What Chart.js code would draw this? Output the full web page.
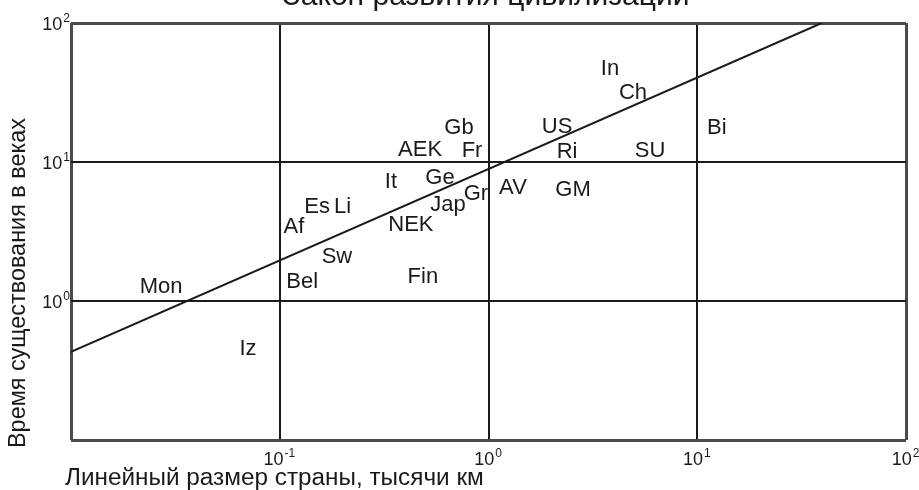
<!DOCTYPE html>
<html>
<head>
<meta charset="utf-8">
<script src="https://cdn.jsdelivr.net/npm/chart.js@4/dist/chart.umd.min.js"></script>
<style>
  body { margin: 0; background: #fff; }
  canvas { display: block; }
</style>
</head>
<body>
<canvas id="chart" width="919" height="490"></canvas>
<script>
// country codes, linear size (thousand km) and lifetime (centuries)
const names = ['In', 'Ch', 'Gb', 'AEK', 'Fr', 'US', 'Ri', 'SU', 'Bi', 'It', 'Ge', 'Gr', 'AV', 'GM',
  'Jap', 'Es', 'Li', 'Af', 'NEK', 'Sw', 'Bel', 'Fin', 'Mon', 'Iz'];
const sizes = [3.82, 4.92, 0.722, 0.47, 0.834, 2.13, 2.38, 5.94, 12.4, 0.341, 0.586, 0.871, 1.31, 2.54,
  0.64, 0.151, 0.2, 0.117, 0.425, 0.188, 0.128, 0.485, 0.027, 0.0705];
const ages = [48.2, 32.4, 18.2, 12.6, 12.4, 18.5, 12.2, 12.4, 18.2, 7.42, 7.93, 6.08, 6.72, 6.5,
  5.07, 4.91, 4.91, 3.52, 3.64, 2.14, 1.42, 1.54, 1.3, 0.467];

// trend line end points
const lineX = [0.01, 39.5];
const lineY = [0.43, 100];

// decade grid + tick labels
const xTickVals = [0.01, 0.1, 1, 10, 100];
const yTickVals = [0.1, 1, 10, 100];
const xLabelExp = [-1, 0, 1, 2];
const yLabelExp = [0, 1, 2];

const titleText = 'Закон развития цивилизации';
const xTitle = 'Линейный размер страны, тысячи км';
const yTitle = 'Время существования в веках';

const FONT = '"Liberation Sans", Arial, sans-serif';
const INK = '#1a1a1a';

function fitFont(ctx, text, width) {
  ctx.font = '20px ' + FONT;
  return 20 * width / ctx.measureText(text).width;
}

function drawPow(ctx, exp, x, y, align) {
  // "10" with a raised exponent; x is the anchor, y the middle of "10"
  const base = '10', sup = String(exp);
  ctx.font = '18px ' + FONT;
  const wb = ctx.measureText(base).width;
  ctx.font = '12px ' + FONT;
  const ws = ctx.measureText(sup).width;
  let left;
  if (align === 'right') left = x - wb - ws;
  else left = x - (wb + ws) / 2;
  ctx.textAlign = 'left';
  ctx.textBaseline = 'alphabetic';
  ctx.font = '18px ' + FONT;
  ctx.fillText(base, left, y + 6.5);
  ctx.font = '12px ' + FONT;
  ctx.fillText(sup, left + wb + 1, y - 1);
}

const textPlugin = {
  id: 'textPlugin',
  afterDatasetsDraw(chart) {
    const ctx = chart.ctx;
    const xs = chart.scales.x, ys = chart.scales.y;
    ctx.save();
    ctx.fillStyle = INK;

    // country labels at their data points
    const meta = chart.getDatasetMeta(1);
    ctx.font = '22px ' + FONT;
    ctx.textAlign = 'center';
    ctx.textBaseline = 'alphabetic';
    meta.data.forEach((pt, i) => {
      ctx.fillText(names[i], pt.x, pt.y + 8);
    });

    // tick labels
    xLabelExp.forEach(e => {
      drawPow(ctx, e, xs.getPixelForValue(Math.pow(10, e)) - 1, 458, 'center');
    });
    yLabelExp.forEach(e => {
      drawPow(ctx, e, 69, ys.getPixelForValue(Math.pow(10, e)), 'right');
    });

    // axis titles
    let fs = fitFont(ctx, xTitle, 419);
    ctx.font = fs + 'px ' + FONT;
    ctx.textAlign = 'left';
    ctx.textBaseline = 'alphabetic';
    ctx.fillText(xTitle, 65, 485);

    fs = fitFont(ctx, yTitle, 330);
    ctx.save();
    ctx.translate(25, 448);
    ctx.rotate(-Math.PI / 2);
    ctx.font = fs + 'px ' + FONT;
    ctx.fillText(yTitle, 0, 0);
    ctx.restore();

    // title, mostly cut off by the top edge
    fs = fitFont(ctx, titleText, 407);
    ctx.font = fs + 'px ' + FONT;
    ctx.textAlign = 'center';
    ctx.fillText(titleText, 486, 5);

    ctx.restore();
  }
};

function gridColor(ctx) {
  const s = ctx.scale;
  if (!ctx.tick) return INK;
  return (ctx.tick.value === s.min || ctx.tick.value === s.max) ? '#4a4a4a' : INK;
}
function gridWidth(ctx) {
  const s = ctx.scale;
  if (!ctx.tick) return 2;
  return (ctx.tick.value === s.min || ctx.tick.value === s.max) ? 3 : 2;
}

new Chart(document.getElementById('chart'), {
  type: 'scatter',
  data: {
    datasets: [
      {
        type: 'line',
        data: lineX.map((x, i) => ({ x: x, y: lineY[i] })),
        borderColor: INK,
        borderWidth: 2,
        pointRadius: 0,
        fill: false
      },
      {
        data: sizes.map((x, i) => ({ x: x, y: ages[i] })),
        pointRadius: 0,
        pointHoverRadius: 0
      }
    ]
  },
  options: {
    responsive: false,
    animation: false,
    events: [],
    layout: { padding: { left: 71, right: 13, top: 23, bottom: 50 } },
    plugins: { legend: { display: false }, tooltip: { enabled: false } },
    scales: {
      x: {
        type: 'logarithmic',
        min: 0.01,
        max: 100,
        afterBuildTicks: axis => { axis.ticks = xTickVals.map(v => ({ value: v })); },
        ticks: { display: false },
        grid: { drawTicks: false, color: gridColor, lineWidth: gridWidth },
        border: { display: false }
      },
      y: {
        type: 'logarithmic',
        min: 0.1,
        max: 100,
        afterBuildTicks: axis => { axis.ticks = yTickVals.map(v => ({ value: v })); },
        ticks: { display: false },
        grid: { drawTicks: false, color: gridColor, lineWidth: gridWidth },
        border: { display: false }
      }
    }
  },
  plugins: [textPlugin]
});
</script>
</body>
</html>
